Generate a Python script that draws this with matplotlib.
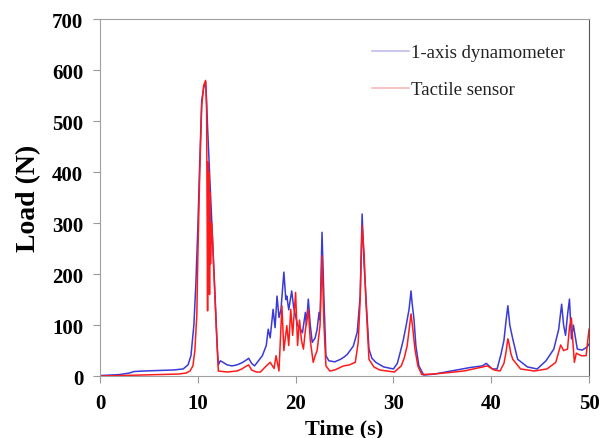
import matplotlib.pyplot as plt

# blue: 1-axis dynamometer, red: tactile sensor
t_dyn = [0.0, 1.0, 2.0, 3.0, 3.5, 4.5, 6.0, 7.5, 8.5, 9.0, 9.3, 9.6, 9.8, 10.0,
         10.2, 10.4, 10.6, 10.8, 10.9, 11.0, 11.2, 11.4, 11.6, 11.8, 12.0, 12.1,
         12.3, 12.5, 13.0, 13.5, 14.0, 14.5, 15.0, 15.2, 15.5, 15.8, 16.2, 16.6,
         17.0, 17.2, 17.4, 17.7, 17.9, 18.1, 18.3, 18.5, 18.8, 19.0, 19.1, 19.3,
         19.6, 19.8, 20.0, 20.2, 20.5, 20.7, 21.0, 21.1, 21.3, 21.5, 21.7, 22.0,
         22.2, 22.4, 22.5, 22.7, 22.9, 23.1, 23.4, 24.0, 24.6, 25.0, 25.3, 25.9,
         26.3, 26.6, 26.8, 27.0, 27.2, 27.5, 27.8, 28.2, 29.0, 30.0, 30.4, 30.7,
         31.0, 31.3, 31.6, 31.8, 31.9, 32.1, 32.3, 32.6, 33.1, 34.2, 35.9, 37.9,
         39.1, 39.5, 40.1, 40.6, 41.0, 41.3, 41.5, 41.7, 41.9, 42.2, 42.7, 43.7,
         44.7, 45.6, 46.4, 46.9, 47.2, 47.4, 47.6, 47.8, 48.0, 48.2, 48.4, 48.8,
         49.3, 49.8, 50.0]
dyn = [1, 2, 3, 6, 9, 10, 11, 12, 14, 22, 40, 100, 180, 290,
       420, 540, 565, 577, 540, 488, 400, 315, 228, 140, 53, 22,
       30, 28, 22, 20, 22, 26, 32, 35, 25, 20, 30, 40,
       60, 92, 75, 131, 95, 157, 115, 130, 204, 150, 157, 130,
       167, 135, 118, 100, 92, 85, 125, 100, 151, 100, 66, 75,
       92, 125, 110, 282, 150, 40, 30, 28, 33, 38, 43, 59,
       86, 157, 318, 220, 151, 53, 35, 27, 18, 14, 25, 47,
       70, 99, 131, 167, 145, 112, 59, 20, 2, 4, 10, 17,
       20, 25, 14, 14, 43, 70, 106, 138, 100, 73, 33, 18,
       14, 30, 53, 92, 141, 100, 80, 120, 151, 73, 100, 53,
       51, 57, 63]

t_tac = [0.0, 2.0, 4.0, 6.0, 8.0, 8.8, 9.2, 9.5, 9.7, 9.9, 10.0, 10.2, 10.4,
         10.6, 10.8, 10.9, 11.0, 11.05, 11.1, 11.15, 11.2, 11.25, 11.3, 11.4,
         11.5, 11.7, 11.9, 12.1, 13.0, 14.0, 14.5, 15.0, 15.2, 15.5, 16.0, 16.4,
         17.0, 17.4, 17.8, 18.0, 18.3, 18.6, 18.8, 19.1, 19.3, 19.5, 19.7, 20.0,
         20.2, 20.4, 20.6, 20.8, 21.0, 21.3, 21.5, 21.8, 22.0, 22.2, 22.5, 22.7,
         22.9, 23.1, 23.5, 24.0, 24.9, 25.5, 26.1, 26.4, 26.6, 26.8, 27.0, 27.2,
         27.5, 28.0, 28.6, 30.1, 30.8, 31.1, 31.4, 31.6, 31.8, 32.0, 32.2, 32.5,
         32.9, 34.0, 35.2, 37.2, 38.9, 39.6, 40.3, 40.9, 41.3, 41.5, 41.7, 41.8,
         42.0, 42.2, 43.0, 44.4, 45.7, 46.6, 47.1, 47.4, 47.8, 48.0, 48.2, 48.3,
         48.5, 48.7, 49.2, 49.7, 50.0]
tac = [0, 1, 2, 3, 4, 6, 10, 20, 50, 120, 230, 400, 530,
       570, 580, 520, 128, 420, 200, 400, 160, 360, 220, 300,
       270, 180, 90, 10, 8, 10, 14, 20, 22, 12, 8, 8,
       20, 27, 15, 40, 10, 138, 50, 99, 60, 131, 80, 164,
       60, 110, 70, 53, 90, 131, 70, 27, 40, 50, 100, 236,
       100, 20, 10, 12, 20, 22, 27, 66, 150, 295, 240, 143,
       33, 18, 12, 8, 20, 35, 59, 90, 122, 90, 53, 20,
       3, 4, 6, 10, 17, 20, 12, 10, 25, 45, 73, 66,
       45, 33, 14, 10, 14, 27, 61, 50, 53, 96, 114, 80,
       27, 45, 40, 40, 92]

x_ticks = [0, 10, 20, 30, 40, 50]
y_ticks = [0, 100, 200, 300, 400, 500, 600, 700]

plt.rcParams['font.family'] = ['Liberation Serif', 'DejaVu Serif']

fig = plt.figure(figsize=(6.06, 4.39), dpi=100)
ax = fig.add_axes([0.165, 0.141, 0.807, 0.813])

ax.plot(t_dyn, dyn, color='#3a3ad8', lw=1.1, label='1-axis dynamometer')
ax.plot(t_tac, tac, color='#ff1a1a', lw=1.1, label='Tactile sensor')

ax.set_xlim(0, 50)
ax.set_ylim(0, 700)
ax.set_xticks(x_ticks)
ax.set_yticks(y_ticks)
for lab in ax.get_xticklabels() + ax.get_yticklabels():
    lab.set_fontweight('bold')
ax.tick_params(axis='both', labelsize=15, length=5, color='#999999', pad=7)
ax.set_xlabel('Time (s)', fontsize=16, fontweight='bold', labelpad=4)
ax.set_ylabel('Load (N)', fontsize=20, fontweight='bold', labelpad=8)

for side in ['left', 'bottom', 'top']:
    ax.spines[side].set_color('#a0a0a0')
ax.spines['right'].set_color('#555555')

leg = ax.legend(loc='upper left', bbox_to_anchor=(0.556, 0.93), frameon=False,
                fontsize=13.5, handlelength=2.0, handletextpad=0.1,
                labelspacing=1.05, borderpad=0, borderaxespad=0)
for txt in leg.get_texts():
    txt.set_color('#222222')
leg.get_lines()[0].set_color('#b8b8e8')
leg.get_lines()[1].set_color('#f4b0b0')

fig.savefig('out.png', dpi=100)
